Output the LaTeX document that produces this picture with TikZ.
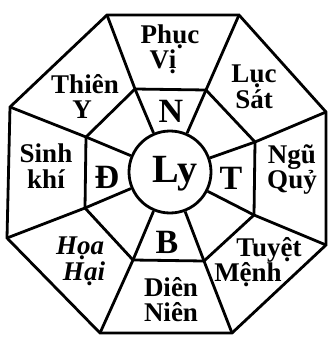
\documentclass[tikz,border=0pt]{standalone}
\usepackage{fontspec}
\setmainfont{Liberation Serif}
\begin{document}
\begin{tikzpicture}[x=1pt,y=-1pt,
  edge/.style={line width=2.8pt, line join=miter},
  lbl/.style={font=\fontsize{27}{#1}\selectfont\bfseries, inner sep=0pt, anchor=base, align=center},
  lbl/.default=24,
  ilbl/.style={lbl, font=\fontsize{27}{#1}\selectfont\bfseries\itshape},
  ilbl/.default=24,
  dir/.style={font=\fontsize{34}{34}\selectfont\bfseries, inner sep=0pt, anchor=base},
  hub/.style={circle, draw, line width=2.8pt, minimum size=82pt, inner sep=0pt}]
\useasboundingbox (0,0) rectangle (328,337);
% outer octagon
\coordinate (o1) at (107,15);
\coordinate (o2) at (239,15);
\coordinate (o3) at (326,112);
\coordinate (o4) at (326,245);
\coordinate (o5) at (232,333);
\coordinate (o6) at (100,333);
\coordinate (o7) at (7,238);
\coordinate (o8) at (10,107);
% inner octagon
\coordinate (i1) at (135,89);
\coordinate (i2) at (206,90);
\coordinate (i3) at (255,142);
\coordinate (i4) at (254,215);
\coordinate (i5) at (204,261);
\coordinate (i6) at (133,260);
\coordinate (i7) at (85,208);
\coordinate (i8) at (86,137);
\draw[edge] (o1)--(o2)--(o3)--(o4)--(o5)--(o6)--(o7)--(o8)--cycle;
\draw[edge] (i1)--(i2)--(i3)--(i4)--(i5)--(i6)--(i7)--(i8)--cycle;
\node[hub] (ly) at (170,172) {};
\foreach \k in {1,...,8} \draw[edge] (ly) -- (i\k) -- (o\k);
% centre
\node[font=\fontsize{40}{40}\selectfont\bfseries, inner sep=0pt, anchor=base] (lyt) at (175,182) {Ly};
% directions
\node[dir] (dn) at (171,122) {N};
\node[dir] (dt) at (231,189) {T};
\node[dir] (db) at (167,253) {B};
\node[dir] (dd) at (107,188) {Đ};
% outer labels
\node[lbl=22] (pv) at (170,69) {Phục\\\hspace*{-14pt}Vị};
\node[lbl=24] (ls) at (254,108) {Lục\\Sát};
\node[lbl=25] (nq) at (292,188) {Ngũ\\Quỷ};
\node[lbl] (t1) at (269,256) {Tuyệt};
\node[lbl] (t2) at (248,281) {Mệnh};
\node[lbl=25] (dn2) at (171,321) {Diên\\Niên};
\node[ilbl=24] (hh) at (80,280) {Họa\\\hspace*{8pt}Hại};
\node[lbl=26] (sk) at (46,188) {Sinh\\khí};
\node[lbl=25] (ty) at (85,118) {Thiên\\\hspace*{-6pt}Y};
\end{tikzpicture}
\end{document}
